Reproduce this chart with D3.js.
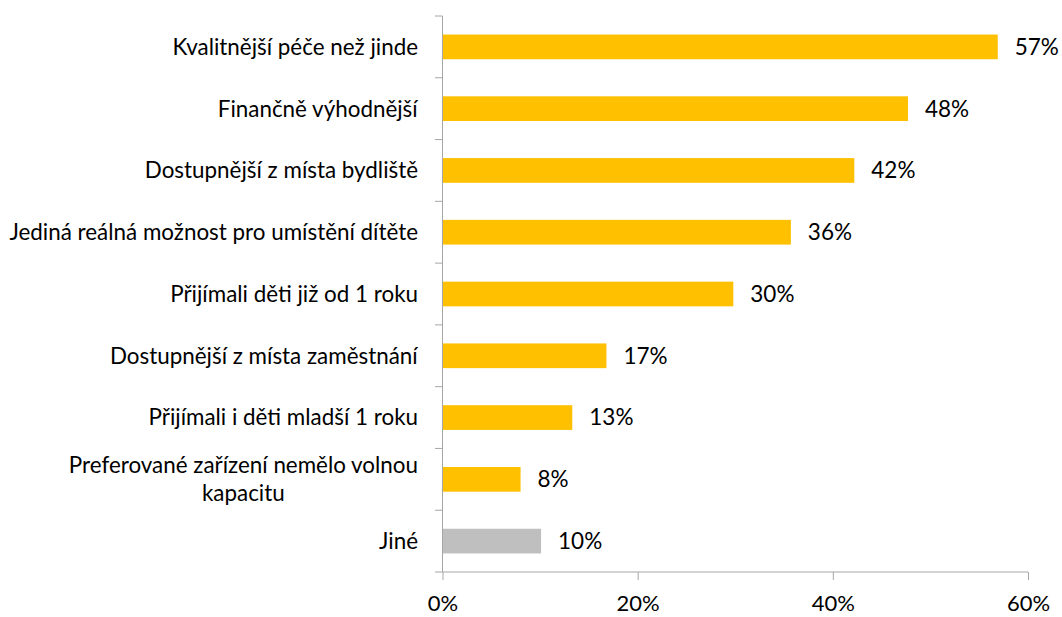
<!DOCTYPE html>
<html><head><meta charset="utf-8">
<script src="https://cdn.jsdelivr.net/npm/d3@7"></script>
<style>body{margin:0;background:#fff}svg{display:block}text{font-family:Lato,"Open Sans",sans-serif;fill:#000}</style>
</head><body><svg id="c" width="1062" height="617"></svg>
<script>
const categories = [
  ["Kvalitnější péče než jinde"],
  ["Finančně výhodnější"],
  ["Dostupnější z místa bydliště"],
  ["Jediná reálná možnost pro umístění dítěte"],
  ["Přijímali děti již od 1 roku"],
  ["Dostupnější z místa zaměstnání"],
  ["Přijímali i děti mladší 1 roku"],
  ["Preferované zařízení nemělo volnou", "kapacitu"],
  ["Jiné"]
];
const values = [56.9, 47.7, 42.2, 35.7, 29.8, 16.8, 13.3, 8.0, 10.1];
const valueLabels = ["57%", "48%", "42%", "36%", "30%", "17%", "13%", "8%", "10%"];
const highlight = [false, false, false, false, false, false, false, false, true];
const xTicks = [0, 20, 40, 60];

const svg = d3.select("#c");
const x = d3.scaleLinear().domain([0, 60]).range([442.5, 1028]);
const y = d3.scaleBand().domain(d3.range(categories.length)).range([16, 572]).paddingInner(0.6).paddingOuter(0.3);
const axisColor = "#a6a6a6";

// bars
svg.selectAll("rect.bar").data(values).join("rect")
  .attr("x", x(0)).attr("y", (d, i) => y(i))
  .attr("width", d => x(d) - x(0)).attr("height", y.bandwidth())
  .attr("fill", (d, i) => highlight[i] ? "#bfbfbf" : "#ffc000");

// value labels
svg.selectAll("text.val").data(values).join("text")
  .attr("x", d => x(d) + 17).attr("y", (d, i) => y(i) + y.bandwidth() / 2)
  .attr("dy", "0.35em").style("font-size", "22.5px").text((d, i) => valueLabels[i]);

// y axis line + ticks at boundaries
const g = svg.append("g");
g.append("line").attr("x1", 442.5).attr("x2", 442.5).attr("y1", 16).attr("y2", 572).attr("stroke", axisColor);
d3.range(categories.length + 1).forEach(i => {
  const yy = 16 + i * (556 / categories.length);
  g.append("line").attr("x1", 435).attr("x2", 442.5).attr("y1", yy).attr("y2", yy).attr("stroke", axisColor);
});

// category labels
categories.forEach((lines, i) => {
  const cy = y(i) + y.bandwidth() / 2;
  const lh = 28;
  const t = svg.append("text").attr("text-anchor", "middle").style("font-size", "22.4px");
  lines.forEach((l, k) => {
    t.append("tspan").attr("x", 0).attr("y", cy + (k - (lines.length - 1) / 2) * lh).attr("dy", "0.35em").text(l);
  });
  const w = t.node().getBBox().width;
  t.selectAll("tspan").attr("x", 418 - w / 2);
});

// x axis
const xa = svg.append("g").attr("transform", "translate(0,572)")
  .call(d3.axisBottom(x).tickValues(xTicks).tickFormat(d => d + "%").tickSize(8).tickPadding(15));
xa.select(".domain").attr("stroke", axisColor).attr("d", `M${x(0)},0H${x(60)}`);
xa.selectAll(".tick line").attr("stroke", axisColor);
xa.selectAll(".tick text").style("font-size", "22px").attr("fill", "#000").style("font-family", "Lato,'Open Sans',sans-serif");
</script></body></html>
